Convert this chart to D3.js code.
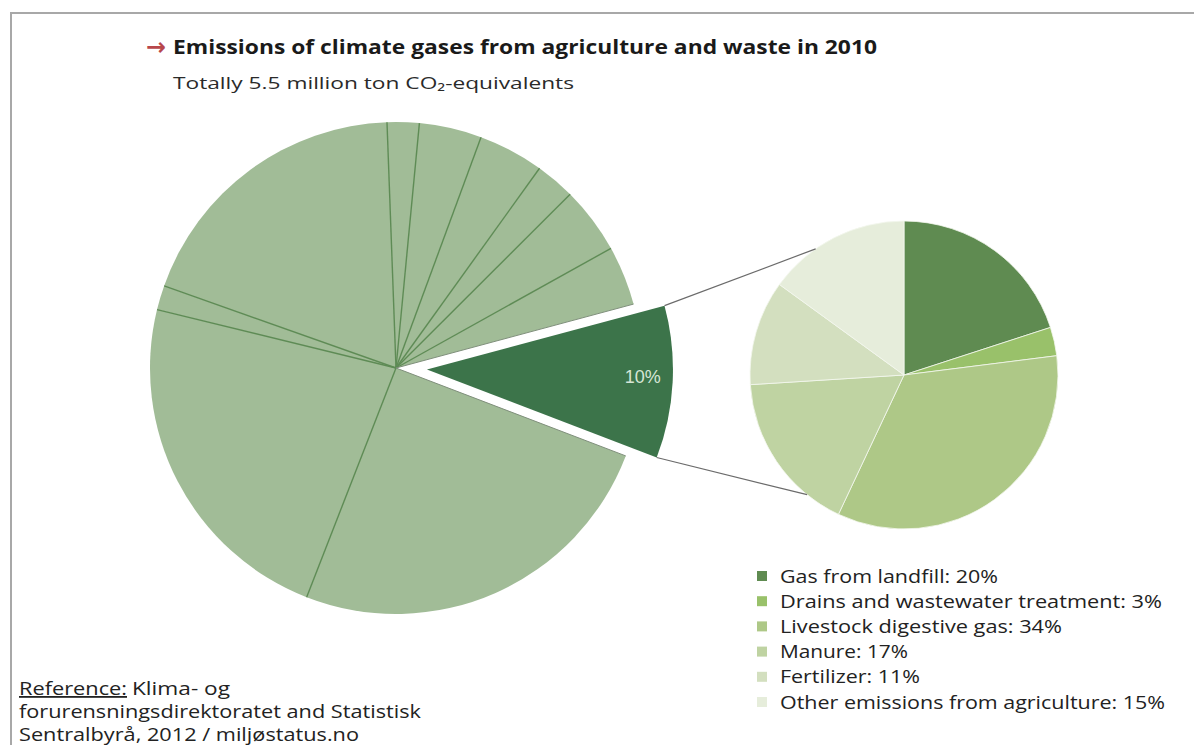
<!DOCTYPE html>
<html>
<head>
<meta charset="utf-8">
<script src="https://cdn.jsdelivr.net/npm/d3@7/dist/d3.min.js"></script>
<style>
  body { margin: 0; background: #fff; }
  svg { display: block; }
</style>
</head>
<body>
<script>
// big pie: all sectors, share in percent, clockwise from top
const sectorNames = ["s1", "s2", "s3", "s4", "s5", "s6", "Agriculture and waste", "s8", "s9", "s10", "s11"];
const sectorShares = [2.1, 4.1, 4.3, 2.6, 4.4, 3.9, 10, 25.1, 22.9, 1.6, 19.0];
const highlightIndex = 6;
const highlightLabel = "10%";

// small pie: breakdown of agriculture and waste
const agriNames = ["Gas from landfill", "Drains and wastewater treatment", "Livestock digestive gas", "Manure", "Fertilizer", "Other emissions from agriculture"];
const agriShares = [20, 3, 34, 17, 11, 15];
const agriColors = ["#5f8b51", "#99c16a", "#aec887", "#bfd3a2", "#d3dfbf", "#e6eddb"];

const titleText = "Emissions of climate gases from agriculture and waste in 2010";
const subtitleText = "Totally 5.5 million ton CO\u2082-equivalents";
const referenceLines = ["Klima- og", "forurensningsdirektoratet and Statistisk", "Sentralbyrå, 2012 / miljøstatus.no"];

document.addEventListener('DOMContentLoaded', function() {
    const W = 1194, H = 745;
    const font = "'Open Sans', 'Noto Sans', sans-serif";
    const rad = d => d * Math.PI / 180;

    const svg = d3.select('body').append('svg')
        .attr('width', W)
        .attr('height', H);

    // frame
    svg.append('rect')
        .attr('x', 11).attr('y', 13)
        .attr('width', 1300).attr('height', 900)
        .attr('fill', 'none')
        .attr('stroke', '#a8a8a8')
        .attr('stroke-width', 2);

    // title + arrow
    svg.append('text')
        .attr('x', 146).attr('y', 55)
        .attr('font-family', "'DejaVu Sans', sans-serif")
        .attr('font-weight', 'bold')
        .attr('font-size', 24)
        .attr('fill', '#b8474b')
        .attr('textLength', 20)
        .attr('lengthAdjust', 'spacingAndGlyphs')
        .text('\u2192');
    svg.append('text')
        .attr('x', 173).attr('y', 54)
        .attr('font-family', font)
        .attr('font-weight', 'bold')
        .attr('font-size', 19)
        .attr('fill', '#1a1a1a')
        .attr('textLength', 704)
        .attr('lengthAdjust', 'spacingAndGlyphs')
        .text(titleText);
    svg.append('text')
        .attr('x', 173).attr('y', 89)
        .attr('font-family', font)
        .attr('font-size', 16)
        .attr('fill', '#2a2a2a')
        .attr('textLength', 401)
        .attr('lengthAdjust', 'spacingAndGlyphs')
        .text(subtitleText);

    // ---- big pie
    const bigC = {x: 396, y: 368}, bigR = 246;
    const pie = d3.pie().sort(null).value(d => d)
        .startAngle(rad(-2.1)).endAngle(rad(357.9));
    const bigArcs = pie(sectorShares);
    const arc = d3.arc().innerRadius(0).outerRadius(bigR);

    const big = svg.append('g').attr('transform', `translate(${bigC.x},${bigC.y})`);
    const hl = bigArcs[highlightIndex];
    const mid = (hl.startAngle + hl.endAngle) / 2;
    const explode = 31;
    const off = {x: explode * Math.sin(mid), y: -explode * Math.cos(mid)};

    big.selectAll('path.slice')
        .data(bigArcs)
        .join('path')
        .attr('class', 'slice')
        .attr('d', arc)
        .attr('fill', (d, i) => i === highlightIndex ? '#3c744a' : '#a1bc97')
        .attr('transform', (d, i) => i === highlightIndex ? `translate(${off.x},${off.y})` : null);

    // separator lines between the non-exploded slices
    const pt = (a, r) => [r * Math.sin(a), -r * Math.cos(a)];
    const bounds = bigArcs
        .filter((d, i) => i !== highlightIndex && i !== highlightIndex + 1)
        .map(d => d.startAngle);
    big.selectAll('line.sep')
        .data(bounds)
        .join('line')
        .attr('class', 'sep')
        .attr('x1', 0).attr('y1', 0)
        .attr('x2', a => pt(a, bigR)[0])
        .attr('y2', a => pt(a, bigR)[1])
        .attr('stroke', '#5e8b55')
        .attr('stroke-width', 1.4);
    big.selectAll('line.gap')
        .data([hl.startAngle, hl.endAngle])
        .join('line')
        .attr('class', 'gap')
        .attr('x1', 0).attr('y1', 0)
        .attr('x2', a => pt(a, bigR)[0])
        .attr('y2', a => pt(a, bigR)[1])
        .attr('stroke', '#7f8f7b')
        .attr('stroke-width', 1);

    // percentage label inside the exploded slice
    const lp = pt(mid, 216);
    big.append('text')
        .attr('x', off.x + lp[0])
        .attr('y', off.y + lp[1] - 4)
        .attr('dy', '0.35em')
        .attr('text-anchor', 'middle')
        .attr('font-family', "'Liberation Sans', Arial, sans-serif")
        .attr('font-size', 18)
        .attr('fill', '#d6e6d6')
        .text(highlightLabel);

    // ---- small pie
    const smallC = {x: 904, y: 375}, smallR = 154;
    const smallPie = d3.pie().sort(null).value(d => d);
    const smallArcs = smallPie(agriShares);
    const smallArc = d3.arc().innerRadius(0).outerRadius(smallR);
    const small = svg.append('g').attr('transform', `translate(${smallC.x},${smallC.y})`);
    small.selectAll('path')
        .data(smallArcs)
        .join('path')
        .attr('d', smallArc)
        .attr('fill', (d, i) => agriColors[i])
        .attr('stroke', '#f4f7ef')
        .attr('stroke-width', 0.8);

    // connector lines from exploded slice corners to the small pie
    const attach = [rad(-35), rad(219)];
    const corners = [hl.startAngle, hl.endAngle].map(a => {
        const p = pt(a, bigR);
        return [bigC.x + off.x + p[0], bigC.y + off.y + p[1]];
    });
    const ends = attach.map(a => {
        const p = pt(a, smallR);
        return [smallC.x + p[0], smallC.y + p[1]];
    });
    svg.selectAll('line.conn')
        .data([0, 1])
        .join('line')
        .attr('class', 'conn')
        .attr('x1', i => corners[i][0]).attr('y1', i => corners[i][1])
        .attr('x2', i => ends[i][0]).attr('y2', i => ends[i][1])
        .attr('stroke', '#6b6b6b')
        .attr('stroke-width', 1.2);

    // ---- legend
    const legendWidths = [218, 382, 282, 128, 140, 385];
    const legend = svg.append('g').attr('transform', 'translate(757,0)');
    const rows = legend.selectAll('g')
        .data(agriNames)
        .join('g')
        .attr('transform', (d, i) => `translate(0,${576 + i * 25.2})`);
    rows.append('rect')
        .attr('x', 0).attr('y', -5)
        .attr('width', 10).attr('height', 10)
        .attr('fill', (d, i) => agriColors[i]);
    rows.append('text')
        .attr('x', 23).attr('y', 6.5)
        .attr('font-family', font)
        .attr('font-size', 18)
        .attr('fill', '#222')
        .attr('textLength', (d, i) => legendWidths[i])
        .attr('lengthAdjust', 'spacingAndGlyphs')
        .text((d, i) => `${d}: ${agriShares[i]}%`);

    // ---- reference
    const ref = svg.append('g')
        .attr('font-family', font)
        .attr('font-size', 18)
        .attr('fill', '#222');
    ref.append('text')
        .attr('x', 19).attr('y', 695)
        .attr('text-decoration', 'underline')
        .attr('textLength', 108)
        .attr('lengthAdjust', 'spacingAndGlyphs')
        .text('Reference:');
    const refWidths = [98, 402, 340];
    ref.selectAll('text.ref')
        .data(referenceLines)
        .join('text')
        .attr('class', 'ref')
        .attr('x', (d, i) => i === 0 ? 132 : 19)
        .attr('y', (d, i) => 695 + i * 23)
        .attr('textLength', (d, i) => refWidths[i])
        .attr('lengthAdjust', 'spacingAndGlyphs')
        .text(d => d);
});
</script>
</body>
</html>
